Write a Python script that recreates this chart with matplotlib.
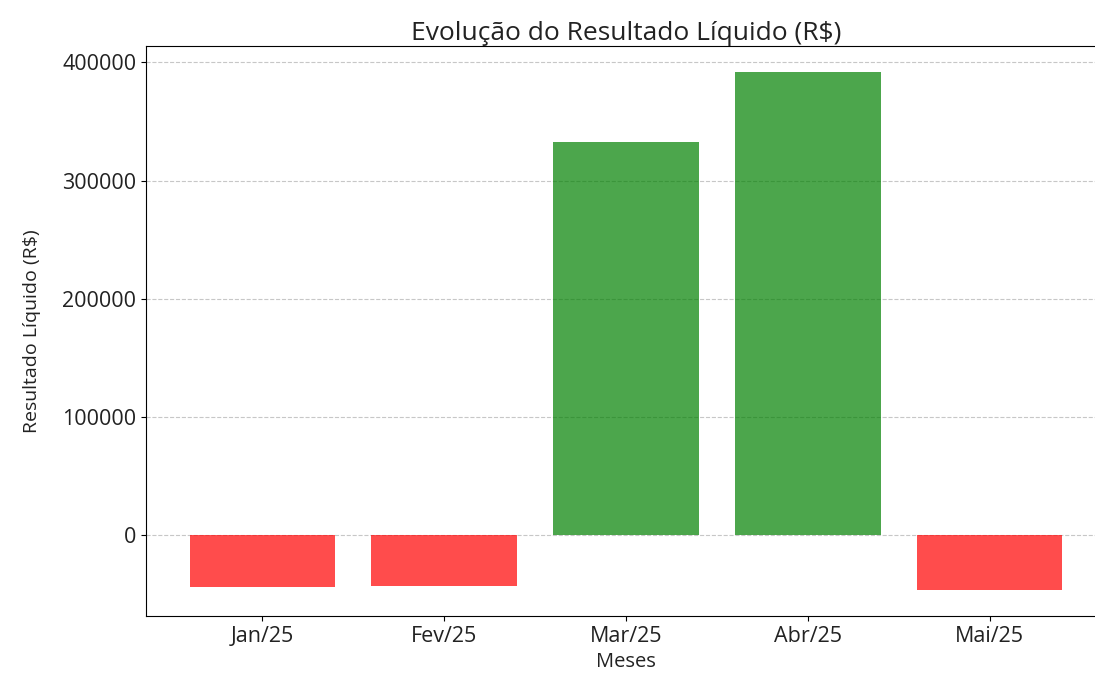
import matplotlib
matplotlib.use("Agg")
import matplotlib.pyplot as plt

meses = ["Jan/25", "Fev/25", "Mar/25", "Abr/25", "Mai/25"]
resultado = [-43900, -42500, 332800, 391900, -46200]

plt.rcParams['font.family'] = ['Open Sans', 'DejaVu Sans']

fig = plt.figure(figsize=(10.95, 6.74), dpi=100)
ax = fig.add_axes([146/1095, (674-616)/674, (1106-146)/1095, (616-46)/674])

cores = ['green' if v >= 0 else 'red' for v in resultado]
ax.bar(meses, resultado, color=cores, alpha=0.7, width=0.8, zorder=2)
ax.grid(axis='y', linestyle='--', alpha=0.7, zorder=0)
ax.spines['right'].set_visible(False)
ax.set_title("Evolução do Resultado Líquido (R$)", fontsize=19, color='#222222', pad=3)
ax.set_xlabel("Meses", fontsize=14.5, color='#222222', labelpad=4)
ax.set_ylabel("Resultado Líquido (R$)", fontsize=14, color='#222222', labelpad=15)
ax.tick_params(axis='both', labelsize=15.5, labelcolor='#222222')

fig.savefig("out.png", dpi=100)
